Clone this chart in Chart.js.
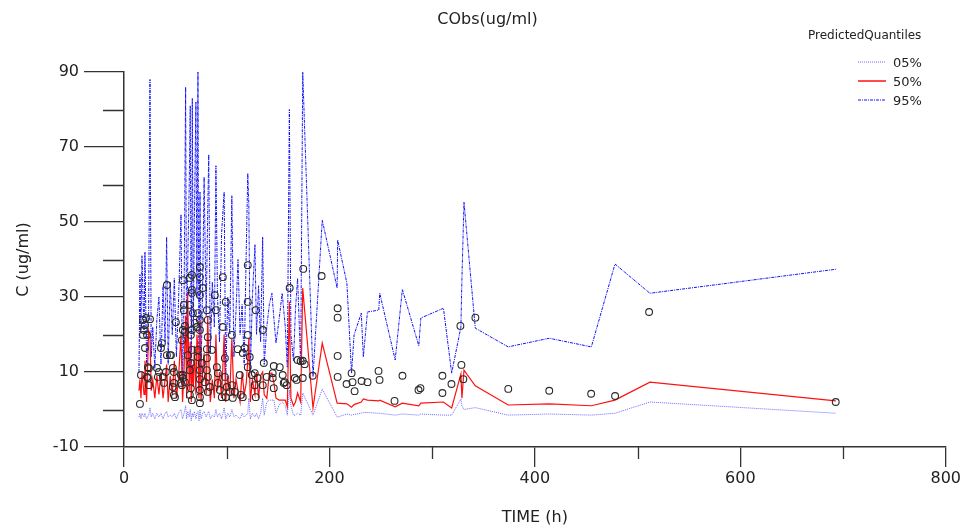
<!DOCTYPE html>
<html>
<head>
<meta charset="utf-8">
<title>CObs(ug/ml)</title>
<script src="https://cdn.jsdelivr.net/npm/chart.js@4.4.1/dist/chart.umd.min.js"></script>
<style>
  html, body { margin: 0; padding: 0; background: #fff; }
  #wrap { position: relative; width: 963px; height: 527px; font-family: 'DejaVu Sans', sans-serif; color: #222; }
  #chart { position: absolute; left: 0; top: 0; }
  #title { position: absolute; left: 0; top: 9px; width: 975px; text-align: center; font-size: 16px; }
  .legend-head { position: absolute; left: 808px; top: 28px; font-size: 12px; }
  .legend-row { position: absolute; left: 858px; height: 16px; font-size: 13px; display: flex; align-items: center; }
  .legend-row svg { margin-right: 7px; }
</style>
</head>
<body>
<div id="wrap">
  <canvas id="chart" width="963" height="527"></canvas>
  <div id="title">CObs(ug/ml)</div>
  <div class="legend-head">PredictedQuantiles</div>
  <div class="legend-row" style="top:54px"><svg width="28" height="4"><line x1="0" y1="2" x2="28" y2="2" stroke="rgba(90,90,255,0.9)" stroke-width="1" stroke-dasharray="1,1"/></svg>05%</div>
  <div class="legend-row" style="top:73px"><svg width="28" height="4"><line x1="0" y1="2" x2="28" y2="2" stroke="#ff2020" stroke-width="1.6"/></svg>50%</div>
  <div class="legend-row" style="top:92px"><svg width="28" height="4"><line x1="0" y1="2" x2="28" y2="2" stroke="#1010ff" stroke-width="1" stroke-dasharray="3,1,1,1"/></svg>95%</div>
</div>
<script>
// prediction times (h), shared by the three quantile lines
const predTime = [
  14.6, 15.5, 16.5, 17.5, 19.5, 20.4, 22, 24, 25.3, 26.5,
  28, 30, 32, 34, 36, 38, 40, 41.5, 43, 45,
  47, 49, 51, 53, 55.5, 57, 58.5, 60, 61, 62,
  63.5, 64.5, 65.5, 66.5, 67.5, 68.5, 70, 71, 72, 73,
  74, 75, 76.5, 78, 80, 81.5, 82.5, 84, 86, 88,
  89.5, 91, 93, 95, 97.5, 99, 101, 103, 105, 107,
  109, 111, 113, 115, 117, 119, 120.5, 121.5, 123, 125,
  127.5, 129, 131, 133, 135, 136.5, 139, 141.5, 144, 146,
  148, 151, 154, 157, 159, 161, 162.5, 165, 167, 169,
  172, 174, 184, 193, 207.5, 208, 217, 221.5, 224, 231,
  233, 237, 248, 249, 264, 271, 287, 289, 311, 319,
  328, 329, 331, 342, 374, 414, 455, 478, 512, 693
];

const q95 = [
  10, 36, 21, 41, 20, 42, 12, 26, 88, 14,
  22, 11, 24, 30, 12, 33, 18, 46, 12, 34,
  20, 35, 14, 28, 52, 5, 30, 86, 10, 38,
  60, 81, 8, 83, 20, 50, 82, 30, 90, 5,
  58, 10, 32, 62, 25, 53, 68, 15, 34, 22,
  65, 30, 18, 47, 58, 8, 30, 20, 57, 14,
  26, 40, 20, 28, 12, 42, 63, 55, 10, 30,
  44, 20, 33, 18, 46, 12, 22, 28, 31, 24,
  17.7, 24, 31, 22, 11.3, 80, 20, 13, 27, 35,
  12, 90, 8.7, 50.5, 32.4, 45.2, 33.7, 9.7, 19.9, 25.7,
  14, 26, 26.5, 31, 13.2, 32, 17, 24.4, 27, 9.7,
  22, 35, 55.3, 21.7, 16.7, 19, 16.7, 38.8, 31, 37.4
];

const q50 = [
  5, 8, 3, 10, 4, 13, 2, 21, 20, 5,
  8, 3, 9, 4, 10, 3, 8, 12, 2, 9,
  4, 13, 3, 8, 20, 2, 11, 25, 3, 31,
  5, 18, 2, 12, 6, 17, 4, 20, 16, 3,
  24, 2, 10, 15, 4, 25, 14, 2, 8, 3,
  20, 5, 10, 3, 20, 2, 9, 4, 19, 3,
  8, 5, 2, 10, 4, 7, 13, 19, 2, 8,
  4, 10, 3, 9, 10, 4, 3, 9.7, 9.7, 7,
  3, 2.5, 2.5, 2.5, 0.7, 28.7, 3, 1, 2, 4.4,
  2, 32.4, 0.4, 17.7, 1.7, 1.7, 1.5, 0.6, 1.3, 2,
  2.8, 2.5, 2.3, 2.5, 0.7, 1.7, 1, 1.7, 2, 0.4,
  9.5, 3, 10.5, 6.3, 1.2, 1.5, 1, 2.5, 7.3, 2.3
];

const q05 = [
  -2, -1, -2.5, -1, -2, -1, -2.5, -1.5, 0.5, -2,
  -1, -2.5, -1, -2, -1, -2.5, -1, -0.5, -2, -1.5,
  -2, -1, -2.5, -1, 0, -2.5, -1, 1, -2.5, -0.5,
  -2, 0, -3, -1, -2, -0.5, -2.5, -1, -0.5, -3,
  0, -2.5, -1, -0.5, -2, -1, -0.5, -2.5, -1.5, -2,
  0, -2, -1, -2.5, 0.5, -2.5, -1, -2, 0, -2,
  -1.5, -2, -2.5, -1, -2, -1.5, -1, 3, -2.5, -1,
  -2, -1, -2.5, -1, 3, -1.5, 2, 2.5, 2.5, 2.5,
  -1, 1.2, 2, 1, -1.5, 5.2, 1, -1.5, -1.5, -1,
  -1.5, 4.4, -1.5, 5.4, -2, -2, -1.2, -1.5, -1.3, -1,
  -0.8, -0.8, -1, -1, -1.5, -1.2, -1.5, -1.2, -1.5, -1.5,
  2.8, 1, 0, 0.5, -1.5, -1.2, -1.5, -1, 2, -1
];

// observed concentrations: [time (h), C (ug/ml)]
const observed = [
  [15.5, 1.5], [16.5, 9.2], [18.5, 23.9], [19.4, 21.2], [18.5, 19.9], [20.4, 22.5], [21.4, 24.4], [25.3, 24.1],
  [22.4, 19.9], [20.4, 16.4], [23.3, 11.3], [22.4, 8.7], [24.3, 6.5], [23.3, 8.4], [24.3, 11],
  [32.1, 11.1], [34, 10], [33, 8.7], [36.9, 17.7], [36, 16.4], [37.9, 8.7], [38.9, 7.1], [40.8, 10],
  [41.8, 33.2], [41.8, 14.5], [44.7, 14.5], [45.7, 14.5], [47.6, 11.1], [48.6, 10], [48.6, 7.1], [47.6, 6],
  [48.6, 3.9], [49.6, 3.3], [50.5, 23.3], [55.4, 9.2], [55.4, 7.1], [56.4, 18.5], [56.4, 6.5], [57.3, 34.5],
  [57.3, 9.2], [57.3, 8.4], [58.3, 26.5], [58.3, 27.9], [59.3, 22.3], [57.3, 21.2], [59.3, 20.7], [59.3, 7.3],
  [62.2, 14.5], [64.1, 35.1], [64.1, 27.9], [64.1, 10.5], [64.1, 3.9], [65.1, 19.9], [65.1, 12.4], [65.1, 5.7],
  [66.1, 35.9], [66.1, 31.9], [66.1, 31.1], [66.1, 21.2], [66.1, 15.9], [66.1, 2.5], [67.1, 25.7], [69, 23.1],
  [70.9, 22], [71.9, 15.9], [71.9, 14], [71.9, 25.7], [73.9, 38], [73.9, 35.3], [73.9, 30.5], [73.9, 23.9],
  [73.9, 21.2], [73.9, 10.5], [73.9, 8.1], [73.9, 5.2], [73.9, 3.3], [73.9, 1.7], [75.8, 12.4], [76.8, 32.4],
  [78.7, 7.3], [80.7, 16.1], [80.7, 13.7], [80.7, 26.5], [81.6, 23.9], [81.6, 19.3], [80.7, 10.5], [81.6, 8.7],
  [83.6, 6], [81.6, 4.7], [85.5, 15.9], [88.4, 30.5], [89.4, 26.5], [90.4, 11.3], [91.4, 9.7], [91.4, 7.1],
  [93.3, 5.2], [95.2, 3.3], [96.2, 35.3], [96.2, 22], [99.1, 28.7], [98.2, 13.7], [98.2, 8.7], [100.1, 6],
  [99.1, 3.3], [103, 4.7], [105, 6.5], [105, 19.9], [107.9, 4.7], [105.9, 3.1], [110.8, 16.1], [112.7, 9.2],
  [113.7, 3.9], [115.6, 3.3], [115.6, 15.1], [117.6, 16.4], [120.5, 38.5], [120.5, 28.7], [120.5, 19.9], [120.5, 11.3],
  [122.4, 14], [124.4, 9.2], [127.3, 9.7], [128.3, 26.5], [128.3, 3.3], [127.3, 6.5], [130.2, 8.4], [135.1, 21.2],
  [136.1, 12.4], [135.1, 6.5], [139, 8.7], [144.8, 9.7], [144.8, 8.4], [145.8, 5.7], [145.8, 11.6], [151.6, 11.3],
  [154.5, 9.2], [156.5, 7.3], [155.5, 7.1], [158.4, 6.5], [161.3, 32.4], [166.2, 8.4], [168.1, 7.9], [169, 13.2],
  [172, 12.9], [174, 8.4], [174, 13], [174.5, 37.5], [175.9, 12.1], [183.7, 9], [192.4, 35.6], [208, 27],
  [208, 24.5], [208, 14.3], [208, 8.7], [216.7, 6.8], [221.6, 9.7], [222.5, 7.3], [224.5, 4.9], [231.3, 7.6],
  [237.1, 7.3], [247.8, 10.3], [248.8, 7.9], [263.4, 2.3], [271.1, 9], [286.7, 5.2], [288.6, 5.7], [310, 9],
  [310, 4.4], [318.8, 6.8], [327.5, 22.3], [328.5, 11.9], [330.4, 8.1], [342.1, 24.5], [374.1, 5.5], [414, 5],
  [454.8, 4.2], [478.1, 3.6], [511.2, 26], [692.9, 2]
];

// axis ticks
const xTicks = [0, 200, 400, 600, 800];
const xMinor = [100, 300, 500, 700];
const yTicks = [-10, 10, 30, 50, 70, 90];
const yMinor = [0, 20, 40, 60, 80];

const axisColor = '#333';
const fontFamily = "'DejaVu Sans', sans-serif";

function toPoints(values) {
    return predTime.map((t, i) => ({ x: t, y: values[i] }));
}

// shorter unlabelled ticks between the labelled ones
const minorTicks = {
    id: 'minorTicks',
    afterDraw(chart) {
        const { ctx, chartArea, scales: { x, y } } = chart;
        ctx.save();
        ctx.strokeStyle = axisColor;
        ctx.lineWidth = 1.3;
        ctx.beginPath();
        yMinor.forEach(v => {
            const py = Math.round(y.getPixelForValue(v)) + 0.5;
            ctx.moveTo(chartArea.left - 21, py);
            ctx.lineTo(chartArea.left, py);
        });
        xMinor.forEach(v => {
            const px = Math.round(x.getPixelForValue(v)) + 0.5;
            ctx.moveTo(px, chartArea.bottom);
            ctx.lineTo(px, chartArea.bottom + 12);
        });
        ctx.stroke();
        ctx.restore();
    }
};

new Chart(document.getElementById('chart'), {
    type: 'scatter',
    data: {
        datasets: [
            {
                label: 'Observed',
                data: observed.map(([t, c]) => ({ x: t, y: c })),
                showLine: false,
                pointStyle: 'circle',
                pointRadius: 3.4,
                pointBorderWidth: 1.1,
                borderColor: '#2a2a2a',
                backgroundColor: 'rgba(0,0,0,0)'
            },
            {
                label: '50%',
                data: toPoints(q50),
                showLine: true,
                borderColor: '#ff1010',
                borderWidth: 1.2,
                pointRadius: 0
            },
            {
                label: '95%',
                data: toPoints(q95),
                showLine: true,
                borderColor: '#1010ff',
                borderWidth: 1,
                borderDash: [3, 1, 1, 1],
                pointRadius: 0
            },
            {
                label: '05%',
                data: toPoints(q05),
                showLine: true,
                borderColor: 'rgba(90,90,255,0.9)',
                borderWidth: 1,
                borderDash: [1, 1],
                pointRadius: 0
            }
        ]
    },
    options: {
        responsive: false,
        animation: false,
        devicePixelRatio: 1,
        layout: { padding: { top: 72, right: 16, left: 0, bottom: 0 } },
        plugins: {
            legend: { display: false },
            tooltip: { enabled: false }
        },
        scales: {
            x: {
                type: 'linear',
                min: 0,
                max: 800,
                afterBuildTicks: s => { s.ticks = xTicks.map(v => ({ value: v })); },
                afterFit: s => { s.height = 80; },
                ticks: { color: '#222', font: { family: fontFamily, size: 16 }, padding: 2, maxRotation: 0 },
                grid: { display: true, drawOnChartArea: false, drawTicks: true, tickLength: 20, color: axisColor, lineWidth: 1.3 },
                border: { display: true, color: axisColor, width: 1.5 },
                title: { display: true, text: 'TIME (h)', color: '#222', font: { family: fontFamily, size: 16 }, padding: { top: 0, bottom: 0 } }
            },
            y: {
                type: 'linear',
                min: -10,
                max: 90,
                afterBuildTicks: s => { s.ticks = yTicks.map(v => ({ value: v })); },
                afterFit: s => { s.width = 124; },
                ticks: { color: '#222', font: { family: fontFamily, size: 16 }, padding: 5 },
                grid: { display: true, drawOnChartArea: false, drawTicks: true, tickLength: 40, color: axisColor, lineWidth: 1.3 },
                border: { display: true, color: axisColor, width: 1.5 },
                title: { display: true, text: 'C (ug/ml)', color: '#222', font: { family: fontFamily, size: 16 }, padding: { top: 14, bottom: 0 } }
            }
        }
    },
    plugins: [minorTicks]
});
</script>
</body>
</html>
